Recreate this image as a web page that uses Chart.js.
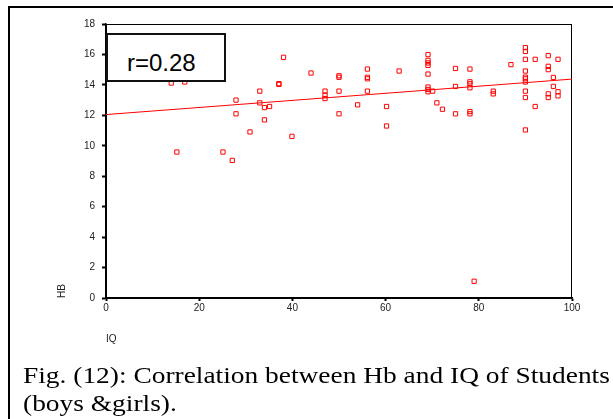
<!DOCTYPE html>
<html>
<head>
<meta charset="utf-8">
<script src="https://cdn.jsdelivr.net/npm/chart.js@4/dist/chart.umd.min.js"></script>
<style>
  body { margin: 0; background: #fff; }
  #wrap { position: relative; width: 613px; height: 419px; overflow: hidden; }
  #frame { position: absolute; left: 8px; top: 6px; width: 700px; height: 500px;
           border-left: 2px solid #000; border-top: 2px solid #000; }
  #chart1 { position: absolute; left: 0; top: 0; }
  #rbox { position: absolute; left: 106px; top: 33px; width: 120px; height: 49px;
          box-sizing: border-box; border: 2px solid #111; background: #fff; }
  #rbox span { position: absolute; left: 19px; top: 14px; line-height: 24px;
               font: 24px "Liberation Sans", Arial, sans-serif; color: #000; }
  #caption { position: absolute; left: 23px; top: 362px; white-space: nowrap;
             font: 24px/27.5px "Liberation Serif", "Times New Roman", serif; color: #000;
             transform: scaleX(1.142); transform-origin: 0 0; }
</style>
</head>
<body>
<div id="wrap">
  <div id="frame"></div>
  <canvas id="chart1" width="613" height="419"></canvas>
  <div id="rbox"><span>r=0.28</span></div>
  <div id="caption">Fig. (12): Correlation between Hb and IQ of Students<br>(boys &amp;girls).</div>
</div>
<script>
// nilai IQ dan Hb tiap siswa
const iqValues = [14.0, 16.9, 15.2, 25.1, 27.1, 27.9, 27.9, 30.9, 33.0, 33.0,
                  34.0, 34.0, 35.1, 37.1, 37.1, 38.1, 39.9, 44.0, 47.0, 47.0,
                  47.0, 50.0, 50.0, 50.0, 50.0, 54.0, 56.1, 56.1, 56.1, 56.1,
                  60.2, 60.2, 62.9, 69.1, 69.1, 69.1, 69.1, 69.1, 69.1, 69.1,
                  69.1, 70.1, 71.0, 72.2, 75.0, 75.0, 75.0, 78.1, 78.1, 78.1,
                  78.1, 78.1, 78.1, 79.0, 83.1, 83.1, 86.9, 90.0, 90.0, 90.0,
                  90.0, 90.0, 90.0, 90.0, 90.0, 90.0, 90.0, 92.1, 92.1, 94.9,
                  94.9, 94.9, 94.9, 94.9, 96.0, 96.0, 97.0, 97.0, 97.0];
const hbValues = [14.12, 14.19, 9.59, 9.59, 9.04, 13.0, 12.10, 10.91, 13.59, 12.82,
                  12.51, 11.70, 12.58, 14.03, 14.08, 15.81, 10.62, 14.78, 13.59, 13.33,
                  13.10, 14.50, 14.60, 13.59, 12.10, 12.69, 15.04, 14.50, 14.40, 13.59,
                  12.58, 11.30, 14.91, 15.99, 15.61, 15.44, 15.28, 14.71, 13.86, 13.70,
                  13.55, 13.59, 12.82, 12.40, 15.08, 13.90, 12.10, 15.04, 14.20, 14.07,
                  13.81, 12.25, 12.10, 1.10, 13.59, 13.41, 15.33, 16.45, 16.20, 15.68,
                  14.91, 14.51, 14.40, 14.19, 13.59, 13.17, 11.04, 15.68, 12.58, 15.92,
                  15.22, 15.00, 13.41, 13.17, 14.49, 13.90, 15.68, 13.55, 13.28];

// garis regresi
const lineIQ = [0, 100];
const lineHB = [12.05, 14.38];

const xTicks = [0, 20, 40, 60, 80, 100];
const yTicks = [0, 2, 4, 6, 8, 10, 12, 14, 16, 18];

const points = iqValues.map((v, i) => ({ x: v, y: hbValues[i] }));
const fitLine = lineIQ.map((v, i) => ({ x: v, y: lineHB[i] }));

// kotak di sekeliling area plot
const boxPlugin = {
    id: 'plotBox',
    beforeDatasetsDraw(chart) {
        const { ctx, chartArea: a } = chart;
        ctx.save();
        ctx.strokeStyle = '#000';
        ctx.lineWidth = 1;
        ctx.strokeRect(a.left + 0.5, a.top + 0.5, a.right - a.left - 1, a.bottom - a.top);
        ctx.restore();
    }
};

const tickFont = { family: '"Liberation Sans", Arial, sans-serif', size: 10 };

const ctx = document.getElementById('chart1').getContext('2d');
const chart1 = new Chart(ctx, {
    type: 'scatter',
    data: {
        datasets: [{
            label: 'Hb',
            data: points,
            pointStyle: 'rect',
            pointRadius: 3,
            pointBorderWidth: 1,
            borderColor: '#ff0000',
            backgroundColor: 'rgba(0,0,0,0)'
        }, {
            label: 'Fit',
            type: 'line',
            data: fitLine,
            borderColor: '#ff0000',
            borderWidth: 1,
            pointRadius: 0,
            fill: false
        }]
    },
    options: {
        responsive: false,
        animation: false,
        layout: { padding: { top: 24, right: 41, bottom: 73, left: 0 } },
        scales: {
            x: {
                type: 'linear',
                min: 0,
                max: 100,
                afterBuildTicks: s => { s.ticks = xTicks.map(v => ({ value: v })); },
                afterFit: s => { s.height = 48; },
                ticks: { font: tickFont, color: '#222', padding: 1, maxRotation: 0 },
                grid: { drawOnChartArea: false, tickLength: 3, tickWidth: 2, tickColor: '#000' },
                border: { color: '#000', width: 1.5 },
                title: { display: true, text: 'IQ', align: 'start', font: tickFont, color: '#222',
                         padding: { top: 0, bottom: 1 } }
            },
            y: {
                min: 0,
                max: 18,
                afterBuildTicks: s => { s.ticks = yTicks.map(v => ({ value: v })); },
                afterFit: s => { s.width = 106; },
                ticks: { font: tickFont, color: '#222', padding: 7 },
                grid: { drawOnChartArea: false, tickLength: 4, tickWidth: 2, tickColor: '#000' },
                border: { color: '#000', width: 1.5 },
                title: { display: true, text: 'HB', align: 'start', font: tickFont, color: '#222',
                         padding: { top: 56, bottom: 0 } }
            }
        },
        plugins: {
            legend: { display: false },
            tooltip: { enabled: false }
        }
    },
    plugins: [boxPlugin]
});
</script>
</body>
</html>
